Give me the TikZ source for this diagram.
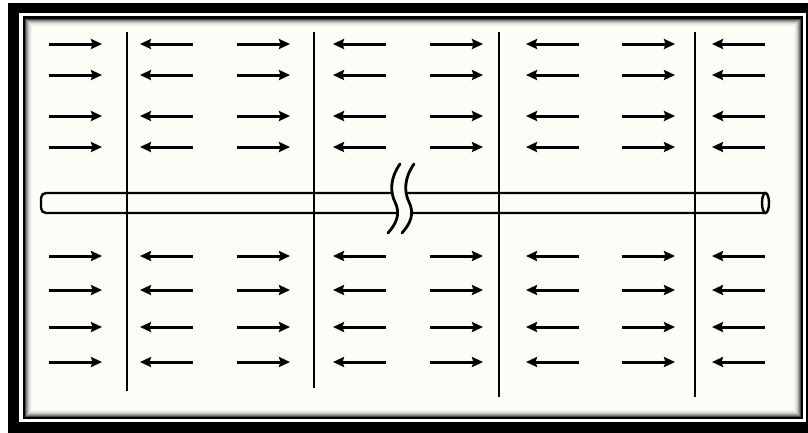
\documentclass[tikz,border=0pt]{standalone}
\usetikzlibrary{arrows.meta}
\definecolor{cream}{RGB}{253,252,246}
\tikzset{
  rarrow/.style={line width=3pt, -{Stealth[length=11pt,width=10pt,inset=1.5pt]}},
  divider/.style={line width=2.4pt},
  tubeline/.style={line width=2.4pt},
  brk/.style={line width=2.8pt, line cap=round},
}
\begin{document}
\begin{tikzpicture}[x=1pt,y=-1pt]
\useasboundingbox (0,0) rectangle (808,432);
\clip (0,0) rectangle (808,432);
% frame
\fill[white] (0,0) rectangle (808,432);
\fill[black] (8,3) rectangle (820,440);
\fill[white] (19,13) rectangle (806,422);
\fill[black] (22.5,16) rectangle (803,419);
\fill[cream] (25,18.5) rectangle (801,417);
\foreach \k/\c in {0/70,1/50,2/34,3/22,4/13,5/7,6/3} {
  \draw[line width=1pt, black!\c!cream] (25.5+\k,19+\k) rectangle (800.5-\k,416.5-\k);
}
% dividers
\foreach \x/\b in {127/391, 314/388, 499/397, 695/397} {
  \draw[divider] (\x,32) -- (\x,\b);
}
% arrows
\foreach \y in {44,75,116,147,256,290,327,362} {
  \foreach \a in {49,237,430,622} {
    \draw[rarrow] (\a,\y) -- (\a+53,\y);
  }
  \foreach \a in {140,333,526,712} {
    \draw[rarrow] (\a+53,\y) -- (\a,\y);
  }
}
% tube
\draw[tubeline, rounded corners=5] (765.5,193) -- (41,193) -- (41,213) -- (765.5,213);
\draw[tubeline, fill=cream] (765.5,203) ellipse [x radius=3.5, y radius=10];
% break
\fill[cream] (400,164) .. controls (390,178) and (390,192) .. (395,202)
  .. controls (401,214) and (396,224) .. (388,233) -- (402,233)
  .. controls (410,224) and (415,214) .. (409,202)
  .. controls (404,192) and (404,178) .. (414,164) -- cycle;
\draw[brk] (400,164) .. controls (390,178) and (390,192) .. (395,202)
  .. controls (401,214) and (396,224) .. (388,233);
\draw[brk] (414,164) .. controls (404,178) and (404,192) .. (409,202)
  .. controls (415,214) and (410,224) .. (402,233);
\end{tikzpicture}
\end{document}
